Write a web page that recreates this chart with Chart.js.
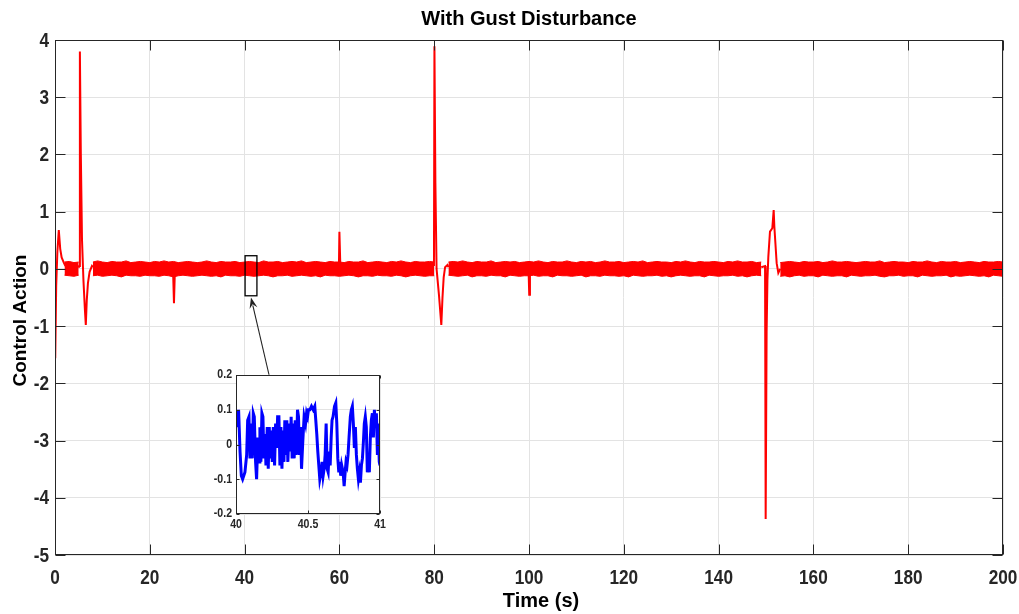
<!DOCTYPE html>
<html>
<head>
<meta charset="utf-8">
<script src="https://cdn.jsdelivr.net/npm/chart.js@4.4.1/dist/chart.umd.min.js"></script>
<style>
  body { margin: 0; background: #fff; }
  #wrap { position: relative; width: 1019px; height: 614px; }
  #inset { position: absolute; left: 196px; top: 365px; }
</style>
</head>
<body>
<div id="wrap">
  <canvas id="main" width="1019" height="614"></canvas>
  <canvas id="inset" width="194" height="170"></canvas>
</div>
<script>
// ticks
const timeTicks = [0, 20, 40, 60, 80, 100, 120, 140, 160, 180, 200];
const actionTicks = [-5, -4, -3, -2, -1, 0, 1, 2, 3, 4];
const insetTimeTicks = [40, 40.5, 41];
const insetTimeLabels = ['40', '40.5', '41'];
const insetActionTicks = [-0.2, -0.1, 0, 0.1, 0.2];
const insetActionLabels = ['-0.2', '-0.1', '0', '0.1', '0.2'];

// steady-state noise band, upper / lower edge, one sample per second (t = 0..200)
const bandStep = 1;
const bandUpper = [
  null, null, 0.12, 0.13, 0.11, 0.12, null, null, 0.12, 0.14, 0.12, 0.11, 0.13, 0.12, 0.12, 0.14, 0.11, 0.12, 0.13, 0.12,
  0.11, 0.13, 0.12, 0.14, 0.12, 0.13, 0.11, 0.12, 0.13, 0.12, 0.11, 0.12, 0.14, 0.12, 0.11, 0.13, 0.12, 0.12, 0.13, 0.11,
  0.12, 0.13, 0.12, 0.11, 0.14, 0.12, 0.12, 0.13, 0.11, 0.12, 0.13, 0.12, 0.14, 0.11, 0.12, 0.13, 0.12, 0.11, 0.13, 0.12,
  0.12, 0.11, 0.13, 0.12, 0.12, 0.14, 0.11, 0.12, 0.13, 0.12, 0.11, 0.13, 0.12, 0.14, 0.12, 0.11, 0.13, 0.12, 0.12, 0.13,
  0.12, null, null, 0.12, 0.13, 0.12, 0.14, 0.12, 0.11, 0.13, 0.12, 0.12, 0.14, 0.11, 0.12, 0.13, 0.12, 0.13, 0.11, 0.12,
  0.13, 0.12, 0.14, 0.12, 0.11, 0.13, 0.12, 0.12, 0.14, 0.12, 0.11, 0.13, 0.12, 0.13, 0.11, 0.12, 0.14, 0.12, 0.12, 0.13,
  0.11, 0.12, 0.13, 0.12, 0.14, 0.11, 0.12, 0.13, 0.12, 0.12, 0.11, 0.13, 0.12, 0.14, 0.12, 0.11, 0.13, 0.12, 0.12, 0.13,
  0.12, 0.11, 0.13, 0.12, 0.14, 0.12, 0.12, 0.13, 0.11, 0.12, null, null, null, 0.11, 0.12, 0.13, 0.12, 0.11, 0.13, 0.12,
  0.12, 0.13, 0.11, 0.12, 0.14, 0.12, 0.12, 0.13, 0.12, 0.11, 0.12, 0.13, 0.12, 0.12, 0.14, 0.11, 0.12, 0.13, 0.12, 0.12,
  0.11, 0.13, 0.12, 0.12, 0.14, 0.12, 0.11, 0.13, 0.12, 0.12, 0.13, 0.11, 0.12, 0.13, 0.12, 0.11, 0.13, 0.12, 0.12, 0.13, 0.12
];
const bandLower = [
  null, null, -0.11, -0.12, -0.13, -0.11, null, null, -0.12, -0.11, -0.13, -0.12, -0.11, -0.12, -0.14, -0.11, -0.12, -0.12, -0.13, -0.11,
  -0.12, -0.12, -0.13, -0.11, -0.12, -0.14, -0.12, -0.11, -0.12, -0.13, -0.12, -0.11, -0.12, -0.13, -0.12, -0.14, -0.11, -0.12, -0.12, -0.13,
  -0.11, -0.12, -0.13, -0.12, -0.11, -0.12, -0.14, -0.12, -0.12, -0.11, -0.13, -0.12, -0.11, -0.12, -0.13, -0.12, -0.14, -0.11, -0.12, -0.12,
  -0.13, -0.12, -0.11, -0.12, -0.14, -0.12, -0.12, -0.13, -0.11, -0.12, -0.12, -0.13, -0.11, -0.12, -0.14, -0.12, -0.11, -0.12, -0.13, -0.12,
  -0.12, null, null, -0.11, -0.12, -0.13, -0.12, -0.11, -0.14, -0.12, -0.12, -0.13, -0.11, -0.12, -0.12, -0.14, -0.11, -0.12, -0.13, -0.12,
  -0.12, -0.11, -0.13, -0.12, -0.12, -0.14, -0.11, -0.12, -0.12, -0.13, -0.12, -0.11, -0.14, -0.12, -0.12, -0.13, -0.11, -0.12, -0.12, -0.13,
  -0.12, -0.14, -0.11, -0.12, -0.13, -0.12, -0.12, -0.11, -0.13, -0.12, -0.14, -0.12, -0.11, -0.12, -0.13, -0.12, -0.12, -0.14, -0.11, -0.12,
  -0.13, -0.12, -0.12, -0.11, -0.13, -0.12, -0.14, -0.12, -0.11, -0.12, null, null, null, -0.13, -0.12, -0.14, -0.12, -0.11, -0.13, -0.12,
  -0.12, -0.14, -0.11, -0.12, -0.13, -0.12, -0.12, -0.14, -0.11, -0.12, -0.13, -0.12, -0.12, -0.11, -0.13, -0.14, -0.12, -0.12, -0.11, -0.13,
  -0.12, -0.12, -0.14, -0.11, -0.12, -0.13, -0.12, -0.12, -0.11, -0.14, -0.12, -0.13, -0.12, -0.11, -0.12, -0.13, -0.12, -0.14, -0.11, -0.12, -0.13
];

// transients (null = break between events)
const transientTime = [
  0.05, 0.25, 0.5, 0.8, 1.1, 1.4, 1.9, 2.2, null,
  5.0, 5.1, 5.25, 5.45, 5.7, 6.0, 6.3, 6.5, 6.7, 6.95, 7.3, 7.8, 8.0, null,
  24.9, 25.1, 25.3, null,
  59.9, 60.0, 60.2, null,
  79.95, 80.05, 80.25, 80.5, 81.0, 81.5, 81.75, 82.0, 82.3, 82.8, 83.0, null,
  99.9, 100.05, 100.2, null,
  149.0, 149.8, 149.93, 150.13, 150.3, 150.49, 150.84, 151.33, 151.62, 151.76, 152.25, 152.6, 153.0
];
const transientValue = [
  -1.56, -0.3, 0.3, 0.68, 0.35, 0.2, 0.1, 0.05, null,
  0.02, 0.05, 3.8, 2.0, 0.5, -0.2, -0.7, -0.98, -0.55, -0.25, -0.05, 0.05, 0.03, null,
  0.0, -0.6, 0.0, null,
  0.05, 0.65, 0.05, null,
  0.05, 3.89, 1.5, 0.0, -0.45, -0.98, -0.5, -0.15, 0.03, 0.07, 0.03, null,
  0.0, -0.45, 0.0, null,
  0.03, 0.05, -4.37, -1.1, -0.2, 0.21, 0.65, 0.71, 1.03, 0.74, 0.1, -0.07, 0.0
];

// zoomed window 40..41 s
const insetTime = [
  40.000, 40.009, 40.018, 40.028, 40.037, 40.046, 40.062, 40.074, 40.081, 40.090,
  40.097, 40.104, 40.113, 40.120, 40.127, 40.136, 40.143, 40.152, 40.162, 40.166,
  40.173, 40.180, 40.187, 40.194, 40.201, 40.208, 40.217, 40.224, 40.231, 40.238,
  40.245, 40.252, 40.259, 40.268, 40.275, 40.282, 40.289, 40.298, 40.305, 40.312,
  40.319, 40.326, 40.333, 40.339, 40.346, 40.353, 40.360, 40.370, 40.376, 40.383,
  40.390, 40.397, 40.404, 40.411, 40.420, 40.427, 40.434, 40.441, 40.448, 40.455,
  40.464, 40.473, 40.483, 40.490, 40.497, 40.503, 40.513, 40.524, 40.536, 40.547,
  40.554, 40.561, 40.568, 40.575, 40.582, 40.591, 40.598, 40.605, 40.612, 40.619,
  40.626, 40.633, 40.640, 40.647, 40.654, 40.661, 40.667, 40.674, 40.684, 40.693,
  40.700, 40.707, 40.714, 40.721, 40.727, 40.734, 40.744, 40.751, 40.758, 40.764,
  40.771, 40.778, 40.785, 40.794, 40.801, 40.808, 40.815, 40.822, 40.829, 40.836,
  40.843, 40.850, 40.857, 40.864, 40.871, 40.878, 40.885, 40.891, 40.898, 40.905,
  40.912, 40.919, 40.926, 40.933, 40.940, 40.947, 40.954, 40.961, 40.968, 40.975,
  40.982, 40.988, 40.995, 41.000
];
const insetValue = [
  0.08, 0.05, 0.10, -0.02, -0.09, -0.10, -0.08, -0.03, 0.07, 0.08,
  -0.04, 0.06, -0.04, 0.09, 0.08, -0.05, -0.10, 0.02, -0.05, 0.05,
  -0.05, 0.09, 0.08, -0.04, 0.03, -0.06, 0.05, -0.07, 0.05, -0.04,
  0.04, -0.05, 0.05, -0.06, 0.06, -0.01, 0.08, 0.08, -0.06, 0.05,
  -0.07, 0.04, -0.05, 0.07, -0.03, 0.07, -0.05, 0.06, -0.02, 0.08,
  -0.04, 0.06, -0.04, 0.07, -0.03, 0.10, 0.08, -0.03, 0.05, -0.07,
  0.01, 0.08, 0.06, 0.09, 0.08, 0.10, 0.10, 0.11, 0.10, 0.11,
  0.07, 0.03, -0.02, -0.06, -0.10, -0.08, -0.05, -0.09, -0.07, -0.03,
  0.06, -0.07, -0.08, -0.02, -0.06, 0.02, 0.07, 0.08, 0.11, 0.12,
  0.06, -0.04, -0.08, -0.05, -0.09, -0.06, -0.08, -0.12, -0.08, -0.05,
  -0.06, -0.03, 0.02, 0.08, 0.10, 0.11, 0.06, -0.01, 0.05, -0.03,
  -0.07, -0.10, -0.08, -0.11, -0.06, -0.04, 0.01, 0.06, 0.08, 0.05,
  -0.08, -0.06, -0.08, 0.02, 0.07, 0.09, 0.02, 0.10, 0.05, 0.09,
  -0.03, 0.06, -0.05, -0.06
];

// zoom marker on the main axes and arrow to the inset
const zoomBoxTime = [40.1, 42.6];
const zoomBoxValue = [-0.47, 0.23];
const arrowFrom = [45.15, -1.85];
const arrowTo = [41.35, -0.5];

const WIDE = '"Liberation Sans", Arial, sans-serif';
const RED = '#ff0000';
const INK = '#262626';

const toPoints = (xs, ys) => xs.map((t, i) => ({ x: t === null ? xs[i - 1] : t, y: ys[i] }));
const bandPoints = arr => arr.map((v, i) => ({ x: i * bandStep, y: v }));

// narrow bold text, like the MATLAB export
function narrowText(ctx, text, px, py, align, size, squeeze) {
  ctx.save();
  ctx.translate(px, py);
  ctx.scale(squeeze, 1);
  ctx.font = 'bold ' + size + 'px ' + WIDE;
  ctx.textAlign = align;
  ctx.textBaseline = 'middle';
  ctx.fillText(text, 0, 0);
  ctx.restore();
}

const mainFrame = {
  id: 'mainFrame',
  afterDatasetsDraw(chart) {
    const { ctx, chartArea: a, scales: { x, y } } = chart;
    const L = Math.round(a.left) + 0.5, R = Math.round(a.right) - 0.5;
    const T = Math.round(a.top) + 0.5, B = Math.round(a.bottom) - 0.5;
    ctx.save();
    ctx.strokeStyle = INK;
    ctx.lineWidth = 1;
    ctx.beginPath();
    timeTicks.forEach(t => {
      const px = Math.round(x.getPixelForValue(t)) + 0.5;
      ctx.moveTo(px, B); ctx.lineTo(px, B - 10);
      ctx.moveTo(px, T); ctx.lineTo(px, T + 10);
    });
    actionTicks.forEach(v => {
      const py = Math.round(y.getPixelForValue(v)) + 0.5;
      ctx.moveTo(L, py); ctx.lineTo(L + 10, py);
      ctx.moveTo(R, py); ctx.lineTo(R - 10, py);
    });
    ctx.stroke();
    ctx.strokeRect(L, T, R - L, B - T);

    // tick labels
    ctx.fillStyle = INK;
    timeTicks.forEach(t => narrowText(ctx, String(t), x.getPixelForValue(t), a.bottom + 23, 'center', 20, 0.86));
    actionTicks.forEach(v => narrowText(ctx, String(v), a.left - 6, y.getPixelForValue(v) + 1, 'right', 20, 0.86));

    // axis titles
    ctx.fillStyle = '#000';
    ctx.font = 'bold 20px ' + WIDE;
    ctx.textAlign = 'center';
    ctx.textBaseline = 'middle';
    ctx.fillText('Time (s)', a.left + a.width / 2 + 12, a.bottom + 46);
    ctx.save();
    ctx.translate(21, a.top + a.height / 2 + 23);
    ctx.rotate(-Math.PI / 2);
    ctx.font = 'bold 19px ' + WIDE;
    ctx.fillText('Control Action', 0, 0);
    ctx.restore();

    // zoom rectangle
    const bx0 = x.getPixelForValue(zoomBoxTime[0]), bx1 = x.getPixelForValue(zoomBoxTime[1]);
    const by0 = y.getPixelForValue(zoomBoxValue[1]), by1 = y.getPixelForValue(zoomBoxValue[0]);
    ctx.strokeStyle = '#000';
    ctx.lineWidth = 1.3;
    ctx.strokeRect(bx0, by0, bx1 - bx0, by1 - by0);

    // arrow
    const ax0 = x.getPixelForValue(arrowFrom[0]), ay0 = y.getPixelForValue(arrowFrom[1]);
    const ax1 = x.getPixelForValue(arrowTo[0]), ay1 = y.getPixelForValue(arrowTo[1]);
    const c = Math.cos(Math.atan2(ay1 - ay0, ax1 - ax0)), s = Math.sin(Math.atan2(ay1 - ay0, ax1 - ax0));
    ctx.strokeStyle = '#222';
    ctx.lineWidth = 1.1;
    ctx.beginPath();
    ctx.moveTo(ax0, ay0);
    ctx.lineTo(ax1 - 8 * c, ay1 - 8 * s);
    ctx.stroke();
    ctx.fillStyle = '#222';
    ctx.beginPath();
    ctx.moveTo(ax1, ay1);
    ctx.lineTo(ax1 - 11 * c + 4 * s, ay1 - 11 * s - 4 * c);
    ctx.lineTo(ax1 - 7 * c, ay1 - 7 * s);
    ctx.lineTo(ax1 - 11 * c - 4 * s, ay1 - 11 * s + 4 * c);
    ctx.closePath();
    ctx.fill();
    ctx.restore();
  }
};

new Chart(document.getElementById('main'), {
  type: 'line',
  data: {
    datasets: [
      {
        data: toPoints(transientTime, transientValue),
        borderColor: RED, borderWidth: 2, pointRadius: 0, spanGaps: false, fill: false
      },
      {
        data: bandPoints(bandUpper),
        borderColor: RED, borderWidth: 1, pointRadius: 0, spanGaps: false, fill: false
      },
      {
        data: bandPoints(bandLower),
        borderColor: RED, borderWidth: 1, pointRadius: 0, spanGaps: false,
        fill: { target: 1 }, backgroundColor: RED
      }
    ]
  },
  options: {
    responsive: false,
    animation: false,
    devicePixelRatio: 1,
    layout: { padding: 0 },
    plugins: {
      legend: { display: false },
      tooltip: { enabled: false },
      title: {
        display: true,
        fullSize: false,
        text: 'With Gust Disturbance',
        color: '#000',
        font: { family: WIDE, size: 20, weight: 'bold' },
        padding: { top: 7, bottom: 9 }
      }
    },
    scales: {
      x: {
        type: 'linear', min: 0, max: 200,
        afterBuildTicks: s => { s.ticks = timeTicks.map(value => ({ value })); },
        afterFit: s => { s.height = 59; s.paddingLeft = 0; s.paddingRight = 16; },
        grid: { color: '#e3e3e3', drawTicks: false },
        border: { display: false },
        ticks: { display: false }
      },
      y: {
        min: -5, max: 4,
        afterBuildTicks: s => { s.ticks = actionTicks.map(value => ({ value })); },
        afterFit: s => { s.width = 55; s.paddingTop = 0; s.paddingBottom = 0; },
        grid: { color: '#e3e3e3', drawTicks: false },
        border: { display: false },
        ticks: { display: false }
      }
    }
  },
  plugins: [mainFrame]
});

const insetFrame = {
  id: 'insetFrame',
  beforeDraw(chart) {
    const { ctx, chartArea: a } = chart;
    ctx.save();
    ctx.fillStyle = '#fff';
    ctx.fillRect(a.left, a.top, a.width, a.height);
    ctx.restore();
  },
  afterDraw(chart) {
    const { ctx, chartArea: a, scales: { x, y } } = chart;
    const L = Math.round(a.left) + 0.5, R = Math.round(a.right) - 0.5;
    const T = Math.round(a.top) + 0.5, B = Math.round(a.bottom) - 0.5;
    ctx.save();
    ctx.strokeStyle = INK;
    ctx.lineWidth = 1;
    ctx.beginPath();
    insetTimeTicks.forEach(t => {
      const px = Math.round(x.getPixelForValue(t)) + 0.5;
      ctx.moveTo(px, B); ctx.lineTo(px, B - 3);
      ctx.moveTo(px, T); ctx.lineTo(px, T + 3);
    });
    insetActionTicks.forEach(v => {
      const py = Math.round(y.getPixelForValue(v)) + 0.5;
      ctx.moveTo(L, py); ctx.lineTo(L + 3, py);
      ctx.moveTo(R, py); ctx.lineTo(R - 3, py);
    });
    ctx.stroke();
    ctx.strokeRect(L, T, R - L, B - T);
    ctx.fillStyle = INK;
    insetTimeTicks.forEach((t, i) => narrowText(ctx, insetTimeLabels[i], x.getPixelForValue(t), a.bottom + 11, 'center', 12, 0.88));
    insetActionTicks.forEach((v, i) => narrowText(ctx, insetActionLabels[i], a.left - 4, y.getPixelForValue(v), 'right', 12, 0.88));
    ctx.restore();
  }
};

new Chart(document.getElementById('inset'), {
  type: 'line',
  data: {
    datasets: [{
      data: toPoints(insetTime, insetValue),
      borderColor: '#0000ff', borderWidth: 3, pointRadius: 0, fill: false
    }]
  },
  options: {
    responsive: false,
    animation: false,
    devicePixelRatio: 1,
    layout: { padding: { left: 0, right: 0, top: 10, bottom: 0 } },
    plugins: { legend: { display: false }, tooltip: { enabled: false } },
    scales: {
      x: {
        type: 'linear', min: 40, max: 41,
        afterBuildTicks: s => { s.ticks = insetTimeTicks.map(value => ({ value })); },
        afterFit: s => { s.height = 21; s.paddingLeft = 0; s.paddingRight = 10; },
        grid: { color: '#e3e3e3', drawTicks: false },
        border: { display: false },
        ticks: { display: false }
      },
      y: {
        min: -0.2, max: 0.2,
        afterBuildTicks: s => { s.ticks = insetActionTicks.map(value => ({ value })); },
        afterFit: s => { s.width = 40; s.paddingTop = 0; s.paddingBottom = 0; },
        grid: { color: '#e3e3e3', drawTicks: false },
        border: { display: false },
        ticks: { display: false }
      }
    }
  },
  plugins: [insetFrame]
});
</script>
</body>
</html>
